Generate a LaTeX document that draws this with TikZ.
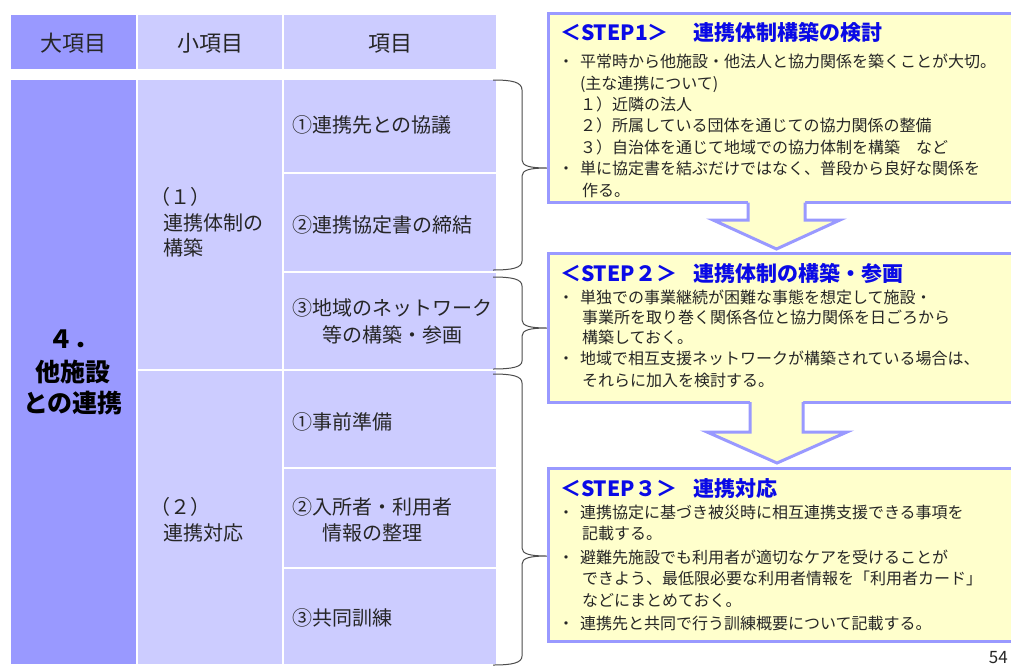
\documentclass[tikz,border=0pt]{standalone}
\usepackage{fontspec}
\setmainfont{Noto Sans CJK JP}
\definecolor{dk}{HTML}{9999FF}
\definecolor{lt}{HTML}{CCCCFF}
\definecolor{yl}{HTML}{FFFFCC}
\definecolor{bd}{HTML}{9999FF}
\definecolor{tb}{HTML}{0A0AE6}
\definecolor{tx}{HTML}{262626}
\begin{document}
\begin{tikzpicture}[x=1pt,y=-1pt,
  cellD/.style={fill=dk,draw=white,line width=1.5pt},
  cellL/.style={fill=lt,draw=white,line width=1.5pt},
  tsix/.style={inner sep=0pt,outer sep=0pt,anchor=west,text=tx,font=\fontsize{16}{16}\selectfont,text height=14pt,text depth=2pt},
  ttw/.style={inner sep=0pt,outer sep=0pt,anchor=west,text=tx,font=\fontsize{20}{20}\selectfont,text height=17.6pt,text depth=2.4pt},
  thd/.style={inner sep=0pt,outer sep=0pt,anchor=center,text=tx,font=\fontsize{22}{22}\selectfont,text height=19.4pt,text depth=2.6pt},
  tbig/.style={inner sep=0pt,outer sep=0pt,anchor=center,text=black,font=\bfseries\fontsize{25}{25}\selectfont,text height=22pt,text depth=3pt},
  ttl/.style={inner sep=0pt,outer sep=0pt,anchor=west,text=tb,font=\bfseries\fontsize{21}{21}\selectfont,text height=18.5pt,text depth=2.5pt},
  stepbox/.style={draw=bd,fill=yl,line width=3pt,inner sep=0pt,outer sep=0pt,anchor=north west},
  brc/.style={draw=black!70,line width=1pt},
  arw/.style={draw=bd,fill=yl,line width=3pt,line join=miter}]
\useasboundingbox (0,0) rectangle (1011,667);
\fill[white] (0,0) rectangle (1011,667);
% header
\path[cellD] (10,14) rectangle (137,70);
\path[cellL] (137,14) rectangle (283,70);
\path[cellL] (283,14) rectangle (497,70);
\node[thd] (h1) at (73,43) {大項目};
\node[thd] (h2) at (210,43) {小項目};
\node[thd] (h3) at (390,43) {項目};
% body cells
\path[cellD] (10,79) rectangle (137,665);
\path[cellL] (137,79) rectangle (283,370);
\path[cellL] (137,370) rectangle (283,665);
\path[cellL] (283,79) rectangle (497,173);
\path[cellL] (283,173) rectangle (497,272);
\path[cellL] (283,272) rectangle (497,370);
\path[cellL] (283,370) rectangle (497,468);
\path[cellL] (283,468) rectangle (497,568);
\path[cellL] (283,568) rectangle (497,665);
% column 1
\node[tbig] (a1) at (73,339) {４．};
\node[tbig] (a2) at (73,372) {他施設};
\node[tbig] (a3) at (73,403) {との連携};
% column 2
\node[ttw] (b1) at (150,197) {（１）};
\node[ttw] (b2) at (163,223) {連携体制の};
\node[ttw] (b3) at (163,248) {構築};
\node[ttw] (b4) at (150,507) {（２）};
\node[ttw] (b5) at (163,533) {連携対応};
% column 3
\node[ttw] (c1) at (292,125) {①連携先との協議};
\node[ttw] (c2) at (292,225) {②連携協定書の締結};
\node[ttw] (c3) at (292,308) {③地域のネットワーク};
\node[ttw] (c3b) at (322,335) {等の構築・参画};
\node[ttw] (c4) at (292,422) {①事前準備};
\node[ttw] (c5) at (292,507) {②入所者・利用者};
\node[ttw] (c5b) at (322,533) {情報の整理};
\node[ttw] (c6) at (292,618) {③共同訓練};
% braces
\draw[brc] (493,80) .. controls (512,80) and (522,82) .. (522,90) -- (522,160)
  .. controls (522,166) and (530,168) .. (547,168)
  .. controls (530,168) and (522,170) .. (522,176) -- (522,261)
  .. controls (522,268) and (512,270) .. (493,270);
\draw[brc] (493,277) .. controls (512,277) and (522,279) .. (522,286) -- (522,320)
  .. controls (522,326) and (530,328) .. (547,328)
  .. controls (530,328) and (522,330) .. (522,336) -- (522,361)
  .. controls (522,367) and (512,369) .. (493,369);
\draw[brc] (493,374) .. controls (512,374) and (522,376) .. (522,383) -- (522,548)
  .. controls (522,554) and (530,556) .. (547,556)
  .. controls (530,556) and (522,558) .. (522,564) -- (522,656)
  .. controls (522,663) and (512,665) .. (493,665);
% step boxes
\node[stepbox,minimum width=472pt,minimum height=189pt] (s1) at (548.5,13.5) {};
\node[stepbox,minimum width=472pt,minimum height=148.5pt] (s2) at (548.5,253.5) {};
\node[stepbox,minimum width=472pt,minimum height=173pt] (s3) at (548.5,468.5) {};
% arrows
\fill[yl] (748,199) -- (748,220) -- (713,220) -- (776.5,249) -- (840,220) -- (805,220) -- (805,199) -- cycle;
\draw[arw,fill=none] (748,202.5) -- (748,220) -- (713,220) -- (776.5,249) -- (840,220) -- (805,220) -- (805,202.5);
\fill[yl] (750,399) -- (750,432) -- (707,432) -- (777,463) -- (847,432) -- (803,432) -- (803,399) -- cycle;
\draw[arw,fill=none] (750,402) -- (750,432) -- (707,432) -- (777,463) -- (847,432) -- (803,432) -- (803,402);
% STEP 1
\node[ttl] (t1) at (560,32) {\makebox[133pt][l]{＜STEP1＞}連携体制構築の検討};
\node[tsix] (p11) at (558,61) {\makebox[22pt][l]{・}平常時から他施設・他法人と協力関係を築くことが大切。};
\node[tsix] (p12) at (580,83) {(主な連携について)};
\node[tsix] (p13) at (580,104) {１）近隣の法人};
\node[tsix] (p14) at (580,125) {２）所属している団体を通じての協力関係の整備};
\node[tsix] (p15) at (580,147) {３）自治体を通じて地域での協力体制を構築　など};
\node[tsix] (p16) at (558,168) {\makebox[22pt][l]{・}単に協定書を結ぶだけではなく、普段から良好な関係を};
\node[tsix] (p17) at (582,190) {作る。};
% STEP 2
\node[ttl] (t2) at (560,273) {\makebox[133pt][l]{＜STEP２＞}連携体制の構築・参画};
\node[tsix] (p21) at (558,297) {\makebox[22pt][l]{・}単独での事業継続が困難な事態を想定して施設・};
\node[tsix] (p22) at (582,317) {事業所を取り巻く関係各位と協力関係を日ごろから};
\node[tsix] (p23) at (582,337) {構築しておく。};
\node[tsix] (p24) at (558,358) {\makebox[22pt][l]{・}地域で相互支援ネットワークが構築されている場合は、};
\node[tsix] (p25) at (582,380) {それらに加入を検討する。};
% STEP 3
\node[ttl] (t3) at (560,488) {\makebox[133pt][l]{＜STEP３＞}連携対応};
\node[tsix] (p31) at (558,512) {\makebox[22pt][l]{・}連携協定に基づき被災時に相互連携支援できる事項を};
\node[tsix] (p32) at (582,533) {記載する。};
\node[tsix] (p33) at (558,557) {\makebox[22pt][l]{・}避難先施設でも利用者が適切なケアを受けることが};
\node[tsix] (p34) at (582,578) {できよう、最低限必要な利用者情報を「利用者カード」};
\node[tsix] (p35) at (582,600) {などにまとめておく。};
\node[tsix] (p36) at (558,623) {\makebox[22pt][l]{・}連携先と共同で行う訓練概要について記載する。};
% page number
\node[inner sep=0pt,anchor=base east,text=tx,font=\fontsize{17}{17}\selectfont] (pg) at (1008,663) {54};
\end{tikzpicture}
\end{document}
